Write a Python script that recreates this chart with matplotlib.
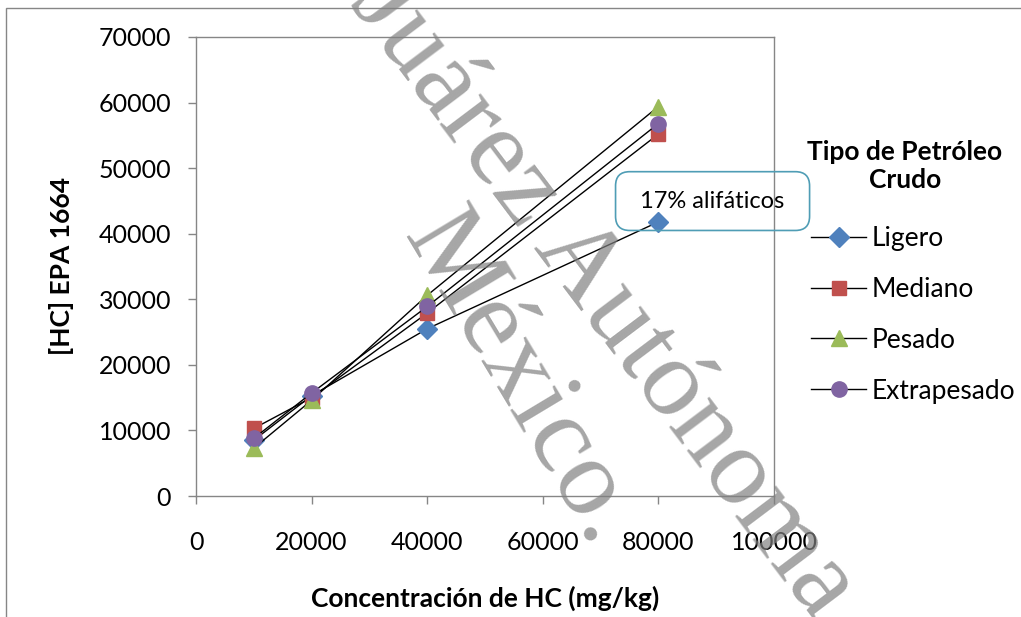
import matplotlib.pyplot as plt
from matplotlib.patches import Rectangle

# data
conc = [10000, 20000, 40000, 80000]
ligero = [8500, 15300, 25500, 41800]
mediano = [10300, 15000, 27900, 55200]
pesado = [7300, 14600, 30600, 59400]
extrapesado = [8800, 15700, 28900, 56800]

names = ['Ligero', 'Mediano', 'Pesado', 'Extrapesado']
markers = ['D', 's', '^', 'o']
msizes = [10, 10, 11, 11]
colors = ['#4F81BD', '#C0504D', '#9BBB59', '#8064A2']

x_ticks = [0, 20000, 40000, 60000, 80000, 100000]
y_ticks = [0, 10000, 20000, 30000, 40000, 50000, 60000, 70000]

plt.rcParams['font.family'] = ['Lato', 'DejaVu Sans']
grey = '#868686'

fig = plt.figure(figsize=(10.21, 6.17), dpi=100)
ax = fig.add_axes([196 / 1021, 1 - 496 / 617, 578 / 1021, 459 / 617])

for vals, name, m, ms, c in zip([ligero, mediano, pesado, extrapesado],
                                names, markers, msizes, colors):
    ax.plot(conc, vals, color='black', lw=1, marker=m, markersize=ms,
            markerfacecolor=c, markeredgecolor=c, label=name, zorder=3)

ax.set_xlim(0, 100000)
ax.set_ylim(0, 70000)
ax.set_xticks(x_ticks)
ax.set_yticks(y_ticks)
ax.tick_params(axis='both', direction='out', length=6, width=1, colors=grey,
               labelcolor='black', labelsize=18)
ax.tick_params(axis='x', pad=19)
ax.tick_params(axis='y', pad=12)
for s in ax.spines.values():
    s.set_color(grey)
    s.set_linewidth(1)

fig.text(485 / 1021, 1 - 598 / 617, 'Concentración de HC (mg/kg)',
         fontsize=19, fontweight='bold', ha='center', va='center')
fig.text(61 / 1021, 1 - 266 / 617, '[HC] EPA 1664', fontsize=19,
         fontweight='bold', rotation=90, ha='center', va='center')

# callout on the last Ligero point
ax.annotate(' 17% alifáticos ', xy=(conc[-1], ligero[-1]), xytext=(39, 15),
            textcoords='offset points', ha='center', va='center', fontsize=17,
            bbox=dict(boxstyle='round,pad=0.8,rounding_size=0.6', fc='none',
                      ec='#4F9DB5', lw=1.2),
            annotation_clip=False, zorder=4)

# legend (title drawn separately so both lines are centred)
fig.text(905 / 1021, 1 - 166 / 617, 'Tipo de Petróleo\nCrudo', fontsize=19,
         fontweight='bold', ha='center', va='center', multialignment='center')
fig.legend(loc='upper left', bbox_to_anchor=(811 / 1021, 1 - 226 / 617),
           frameon=False, fontsize=19, handlelength=2.1, handletextpad=0.2,
           labelspacing=0.98, borderpad=0, borderaxespad=0)

# outer chart frame
fig.patches.append(Rectangle((6 / 1021, -0.1), 1.2, 1.1 - 8 / 617,
                             transform=fig.transFigure, fill=False,
                             ec=grey, lw=1))

# watermark
fig.text(603 / 1021, 1 - 297 / 617, 'Juárez Autónoma', family='Liberation Serif',
         fontsize=80, color='#808080', alpha=0.7, rotation=-53,
         rotation_mode='anchor', ha='center', va='center', zorder=10)
fig.text(520 / 1021, 1 - 380 / 617, 'México.', family='Liberation Serif',
         fontsize=80, color='#808080', alpha=0.7, rotation=-59,
         rotation_mode='anchor', ha='center', va='center', zorder=10)

fig.savefig('out.png', dpi=100)
